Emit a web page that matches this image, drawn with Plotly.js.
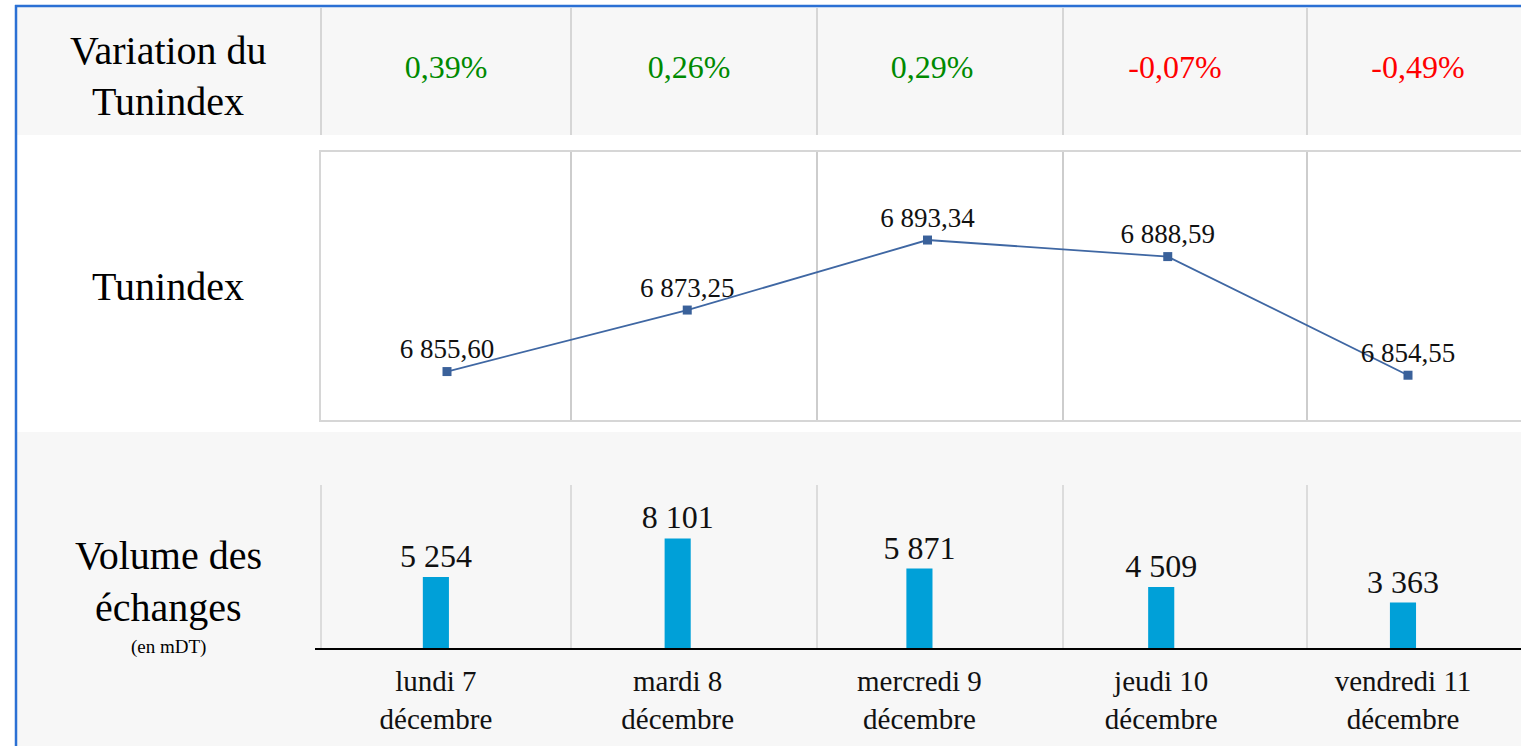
<!DOCTYPE html>
<html>
<head>
<meta charset="utf-8">
<script src="https://cdn.plot.ly/plotly-3.0.1.min.js"></script>
<style>
html,body{margin:0;padding:0;background:#ffffff;}
#chart{width:1521px;height:746px;}
</style>
</head>
<body>
<div id="chart"></div>
<script>
// ---- Data ----
const days = ["lundi 7<br>décembre", "mardi 8<br>décembre", "mercredi 9<br>décembre", "jeudi 10<br>décembre", "vendredi 11<br>décembre"];
const variationPct = [0.39, 0.26, 0.29, -0.07, -0.49];
const tunindex = [6855.60, 6873.25, 6893.34, 6888.59, 6854.55];
const volume = [5254, 8101, 5871, 4509, 3363];

// ---- Helpers (pixel -> paper) ----
const W = 1521, H = 746;
const px = x => x / W;
const py = y => 1 - y / H;
const FONT = "Liberation Serif";
const idx = days.map((d, i) => i);

const gridX = [321, 571, 817, 1063, 1307];
const shapes = [];
// row backgrounds
shapes.push({type:'rect', xref:'paper', yref:'paper', x0:px(17), x1:1, y0:py(135), y1:py(7), fillcolor:'#f7f7f7', line:{width:0}, layer:'below'});
shapes.push({type:'rect', xref:'paper', yref:'paper', x0:px(17), x1:1, y0:0, y1:py(432), fillcolor:'#f7f7f7', line:{width:0}, layer:'below'});
// top row separators
gridX.forEach(x => shapes.push({type:'line', xref:'paper', yref:'paper', x0:px(x), x1:px(x), y0:py(135), y1:py(8), line:{color:'#d6d6d6', width:2}, layer:'below'}));
// line chart vertical lines
gridX.slice(1).forEach(x => shapes.push({type:'line', xref:'paper', yref:'paper', x0:px(x), x1:px(x), y0:py(420), y1:py(152), line:{color:'#cdcdcd', width:2}, layer:'below'}));
// bottom chart vertical lines
gridX.forEach(x => shapes.push({type:'line', xref:'paper', yref:'paper', x0:px(x), x1:px(x), y0:py(648), y1:py(485), line:{color:'#dcdcdc', width:2}, layer:'below'}));
// blue frame
shapes.push({type:'line', xref:'paper', yref:'paper', x0:px(16), x1:px(16), y0:0, y1:py(5), line:{color:'#2b70d4', width:2.5}});
shapes.push({type:'line', xref:'paper', yref:'paper', x0:px(15), x1:1, y0:py(6), y1:py(6), line:{color:'#2b70d4', width:2.5}});

const annotations = [
  {text:'Variation du', x:px(168), y:py(50)},
  {text:'Tunindex', x:px(168), y:py(102)},
  {text:'Tunindex', x:px(168), y:py(287)},
  {text:'Volume des', x:px(168), y:py(555)},
  {text:'échanges', x:px(168), y:py(607)},
].map(a => Object.assign({xref:'paper', yref:'paper', showarrow:false, xanchor:'center', yanchor:'middle', font:{family:FONT, size:40, color:'#000'}}, a));
annotations.push({text:'(en mDT)', xref:'paper', yref:'paper', x:px(168), y:py(647), showarrow:false, xanchor:'center', yanchor:'middle', font:{family:FONT, size:19, color:'#000'}});

const traces = [
  // variation row
  {
    type:'scatter', mode:'text', x:idx, y:idx.map(() => 0),
    text: variationPct.map(v => v.toFixed(2).replace('.', ',') + '%'),
    textposition:'middle center',
    textfont:{family:FONT, size:32, color: variationPct.map(v => v >= 0 ? '#008a00' : '#ff0000')},
    xaxis:'x3', yaxis:'y3', hoverinfo:'skip', cliponaxis:false
  },
  // Tunindex line
  {
    type:'scatter', mode:'lines+markers+text', x:idx, y:tunindex,
    line:{color:'#3f67a3', width:1.8},
    marker:{symbol:'square', size:9, color:'#3a619a'},
    texttemplate:'%{y:,.2f}', textposition:'top center',
    textfont:{family:FONT, size:27, color:'#111'},
    xaxis:'x2', yaxis:'y2', hoverinfo:'skip', cliponaxis:false
  },
  // Volume bars
  {
    type:'bar', x:idx, y:volume,
    marker:{color:'#00a0d8'},
    texttemplate:'%{y:,}', textposition:'outside', constraintext:'none',
    textfont:{family:FONT, size:32, color:'#111'},
    xaxis:'x', yaxis:'y', hoverinfo:'skip', cliponaxis:false
  }
];

const layout = {
  width:W, height:H,
  margin:{l:0, r:0, t:0, b:0, pad:0},
  paper_bgcolor:'#ffffff', plot_bgcolor:'rgba(0,0,0,0)',
  separators:', ',
  showlegend:false,
  bargap:0.892,
  font:{family:FONT},
  shapes, annotations,
  // bar chart axes
  xaxis:{domain:[px(315), 1], range:[-0.5, (1521-436)/241.75], tickmode:'array', tickvals:idx, ticktext:days,
         showgrid:false, zeroline:false, showline:true, linecolor:'#000', linewidth:2, ticks:'',
         ticklabelstandoff:6, tickfont:{family:FONT, size:29, color:'#111'}, fixedrange:true},
  yaxis:{domain:[py(648), py(485)], range:[0, 12050], visible:false, fixedrange:true},
  // line chart axes
  xaxis2:{anchor:'y2', domain:[px(321), 1], range:[(321-447)/240.25, (1521-447)/240.25], showgrid:false, zeroline:false,
          showline:true, mirror:true, linecolor:'#d6d6d6', linewidth:2, showticklabels:false, ticks:'', fixedrange:true},
  yaxis2:{anchor:'x2', domain:[py(420), py(152)], range:[6841.7, 6918.6], showgrid:false, zeroline:false,
          showline:true, linecolor:'#d6d6d6', linewidth:2, showticklabels:false, ticks:'', fixedrange:true},
  // variation row axes
  xaxis3:{anchor:'y3', domain:[px(321), 1], range:[(321-446)/243, (1521-446)/243], visible:false, fixedrange:true},
  yaxis3:{anchor:'x3', domain:[py(135), py(8)], range:[-1.03, 0.97], visible:false, fixedrange:true}
};

Plotly.newPlot('chart', traces, layout, {displayModeBar:false, staticPlot:true});
</script>
</body>
</html>
